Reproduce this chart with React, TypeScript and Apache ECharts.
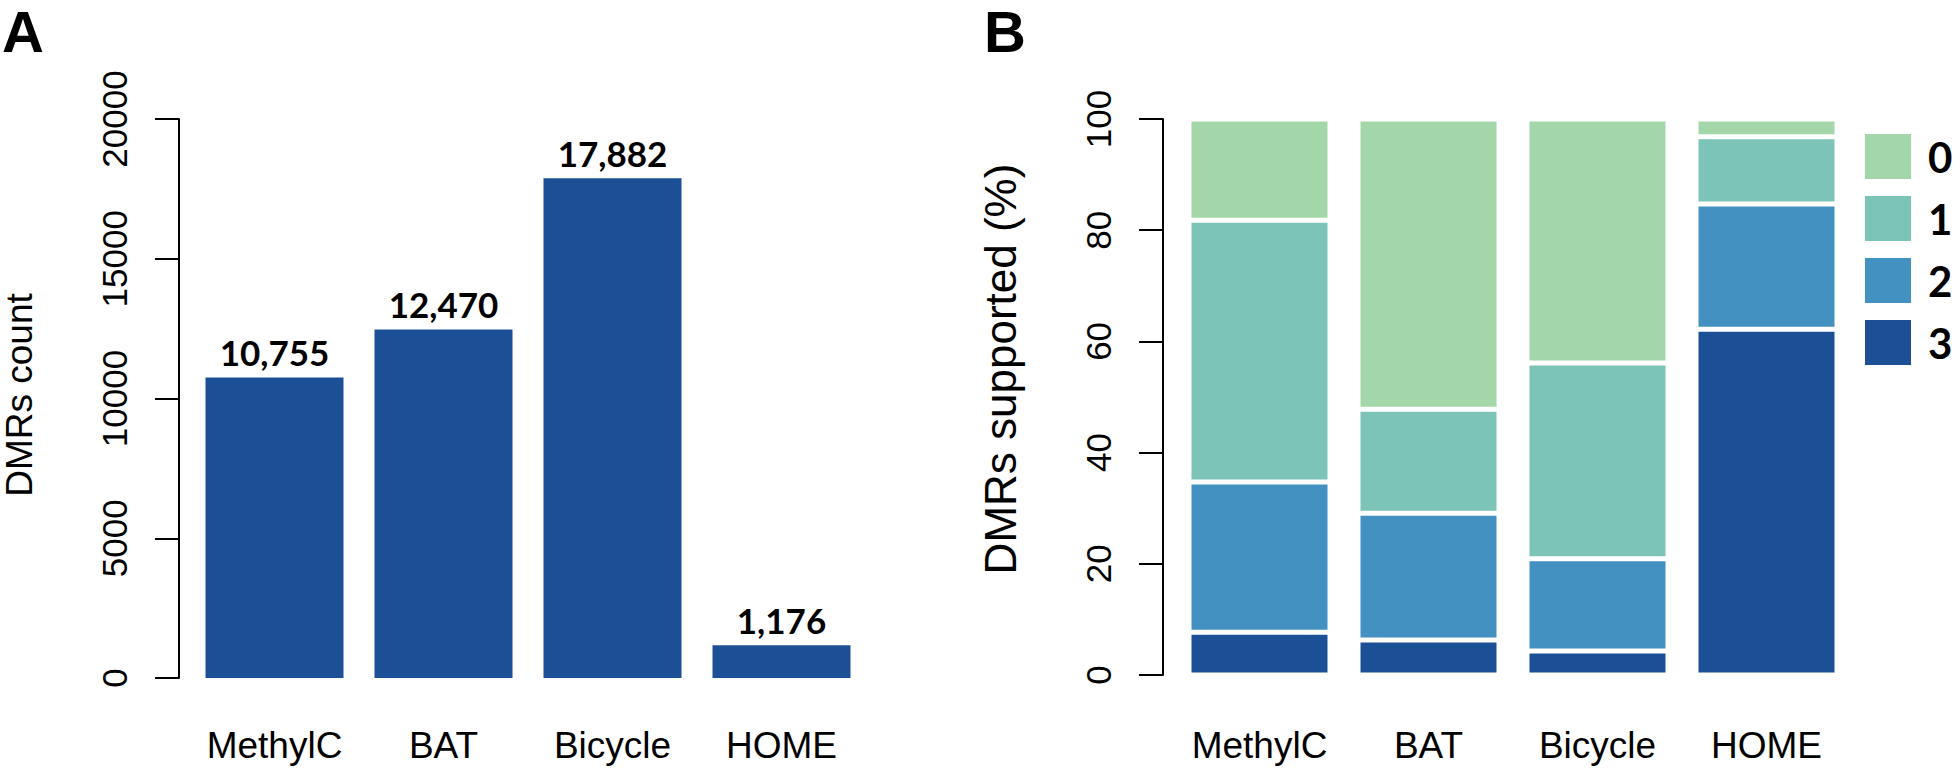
import React, { useEffect, useRef } from "react";
import * as echarts from "echarts";

// ---- data ----
const categories = ["MethylC", "BAT", "Bicycle", "HOME"];
const dmrCounts = [10755, 12470, 17882, 1176];
const supportLevels = ["0", "1", "2", "3"];
const support0 = [18.2, 52.2, 43.9, 3.2];
const support1 = [47.1, 18.7, 35.2, 12.1];
const support2 = [27.0, 22.8, 16.6, 22.5];
const support3 = [7.7, 6.3, 4.3, 62.2];

const levelColors: Record<string, string> = {
  "0": "#a3d6a9",
  "1": "#7cc3b8",
  "2": "#4391c0",
  "3": "#1b5097",
};
const supportData: Record<string, number[]> = {
  "0": support0,
  "1": support1,
  "2": support2,
  "3": support3,
};

const SANS = "'Liberation Sans', Arial, Helvetica, sans-serif";
const CAL = "Lato, 'Open Sans', sans-serif";

export default function App() {
  const ref = useRef<HTMLDivElement>(null);

  useEffect(() => {
    document.body.style.margin = "0";
    if (!ref.current) return;
    const chart = echarts.init(ref.current, undefined, { renderer: "svg" });

    const xAxisBase = (gridIndex: number, margin: number) => ({
      type: "category",
      gridIndex,
      data: categories,
      axisLine: { show: false },
      axisTick: { show: false },
      axisLabel: { interval: 0, margin, fontSize: 37, color: "#000", fontFamily: SANS },
    });

    const yAxisBase = (gridIndex: number, max: number, interval: number, offset: number) => ({
      type: "value",
      gridIndex,
      min: 0,
      max,
      interval,
      offset,
      axisLine: { show: true, lineStyle: { color: "#000", width: 2 } },
      axisTick: { show: true, length: 24, lineStyle: { color: "#000", width: 2 } },
      splitLine: { show: false },
      axisLabel: {
        rotate: 90,
        margin: 47,
        fontSize: 35,
        color: "#000",
        fontFamily: SANS,
        formatter: (v: number) => String(v),
      },
    });

    const stackOrder = ["3", "2", "1", "0"];

    chart.setOption({
      animation: false,
      backgroundColor: "#fff",
      grid: [
        { left: 190, top: 119, width: 676, height: 559 },
        { left: 1175, top: 119, width: 676, height: 556 },
      ],
      xAxis: [xAxisBase(0, 49), xAxisBase(1, 52)],
      yAxis: [yAxisBase(0, 20000, 5000, 11), yAxisBase(1, 100, 20, 12)],
      legend: {
        orient: "vertical",
        left: 1860,
        top: 129,
        padding: 5,
        itemWidth: 46,
        itemHeight: 45,
        itemGap: 17,
        icon: "rect",
        selectedMode: false,
        data: supportLevels,
        itemStyle: { borderWidth: 0 },
        textStyle: { fontSize: 42, fontWeight: "bold", fontFamily: CAL, color: "#000", padding: [0, 0, 0, 12] },
      },
      graphic: [
        {
          type: "text",
          x: 2,
          y: 31,
          style: { text: "A", fontSize: 58, fontWeight: "bold", fontFamily: SANS, fill: "#000", textVerticalAlign: "middle" },
        },
        {
          type: "text",
          x: 984,
          y: 31,
          style: { text: "B", fontSize: 58, fontWeight: "bold", fontFamily: SANS, fill: "#000", textVerticalAlign: "middle" },
        },
        {
          type: "text",
          x: 19,
          y: 395,
          rotation: Math.PI / 2,
          style: { text: "DMRs count", fontSize: 37, fontFamily: SANS, fill: "#000", textAlign: "center", textVerticalAlign: "middle" },
        },
        {
          type: "text",
          x: 1000,
          y: 369,
          rotation: Math.PI / 2,
          style: { text: "DMRs supported (%)", fontSize: 44, fontFamily: SANS, fill: "#000", textAlign: "center", textVerticalAlign: "middle" },
        },
      ],
      series: [
        {
          type: "bar",
          xAxisIndex: 0,
          yAxisIndex: 0,
          data: dmrCounts,
          barWidth: 138,
          itemStyle: { color: "#1b5097" },
          label: {
            show: true,
            position: "top",
            distance: 8,
            formatter: (p: any) => Number(p.value).toLocaleString("en-US"),
            fontFamily: CAL,
            fontWeight: "bold",
            fontSize: 35,
            color: "#000",
          },
        },
        ...stackOrder.map((lvl) => ({
          name: lvl,
          type: "bar",
          xAxisIndex: 1,
          yAxisIndex: 1,
          stack: "support",
          data: supportData[lvl],
          barWidth: 141,
          itemStyle: { color: levelColors[lvl], borderColor: "#fff", borderWidth: 2.5 },
        })),
      ],
    });

    return () => chart.dispose();
  }, []);

  return <div ref={ref} style={{ width: 1960, height: 774 }} />;
}
